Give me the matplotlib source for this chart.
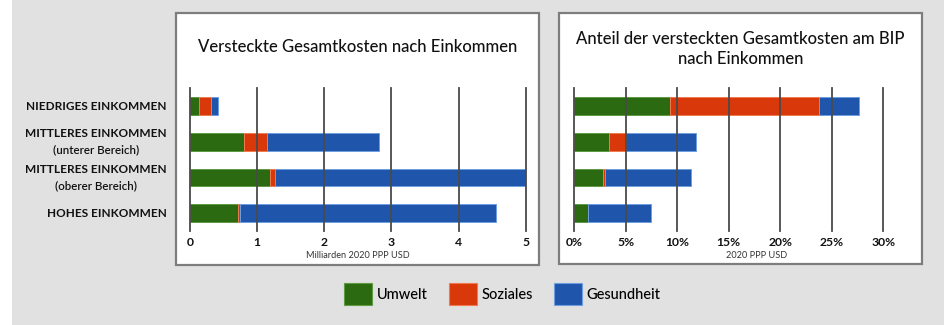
import matplotlib
matplotlib.use("Agg")
import matplotlib.pyplot as plt
from matplotlib.patches import Rectangle, Patch

plt.rcParams['font.family'] = ['Lato', 'DejaVu Sans']

# ---------------- data ----------------
categories = ["NIEDRIGES EINKOMMEN", "MITTLERES EINKOMMEN", "MITTLERES EINKOMMEN", "HOHES EINKOMMEN"]
sublabels = ["", "(unterer Bereich)", "(oberer Bereich)", ""]
series_names = ["Umwelt", "Soziales", "Gesundheit"]

abs_umwelt = [0.13, 0.80, 1.19, 0.72]
abs_soziales = [0.19, 0.34, 0.07, 0.02]
abs_gesundheit = [0.09, 1.68, 3.74, 3.82]

pct_umwelt = [9.3, 3.4, 2.8, 1.4]
pct_soziales = [14.5, 1.6, 0.2, 0.0]
pct_gesundheit = [3.8, 6.85, 8.3, 6.1]

abs_ticks = [0, 1, 2, 3, 4, 5]
abs_ticklabels = ["0", "1", "2", "3", "4", "5"]
pct_ticks = [0, 5, 10, 15, 20, 25, 30]
pct_ticklabels = ["0%", "5%", "10%", "15%", "20%", "25%", "30%"]

title_left = "Versteckte Gesamtkosten nach Einkommen"
title_right = "Anteil der versteckten Gesamtkosten am BIP\nnach Einkommen"
xlabel_left = "Milliarden 2020 PPP USD"
xlabel_right = "2020 PPP USD"

colors = ["#2b6a10", "#d9380a", "#1f55aa"]
edgecolors = ["#5f9a45", "#f07a50", "#6f9ee0"]

# ---------------- layout ----------------
W, H = 945, 325
fig = plt.figure(figsize=(W / 100, H / 100), dpi=100)
fig.patch.set_facecolor("white")

def fx(px):
    return px / W

def fy(py):
    return (H - py) / H

# grey background
fig.patches.append(Rectangle((fx(12), 0), 1 - fx(12), 1, transform=fig.transFigure,
                             facecolor="#e1e1e1", edgecolor="none", zorder=-3))
# panels
for x0, x1, y0, y1 in [(176, 539, 12.5, 265), (559, 922, 12.5, 264)]:
    fig.patches.append(Rectangle((fx(x0), fy(y1)), fx(x1) - fx(x0), fy(y0) - fy(y1),
                                 transform=fig.transFigure, facecolor="white",
                                 edgecolor="#7d7d7d", linewidth=1.6, zorder=-2))

ax_top, ax_bot = 87.5, 231
axL = fig.add_axes([fx(190), fy(ax_bot), fx(525.7) - fx(190), fy(ax_top) - fy(ax_bot)])
axR = fig.add_axes([fx(574), fy(ax_bot), fx(883.3) - fx(574), fy(ax_top) - fy(ax_bot)])

y = list(range(len(categories)))

def draw(ax, vals, ticks, ticklabels, xmax):
    left = [0.0] * len(y)
    for v, c, ec in zip(vals, colors, edgecolors):
        ax.barh(y, v, left=left, height=0.49, color=c, edgecolor=ec, linewidth=0.7, zorder=1)
        left = [a + b for a, b in zip(left, v)]
    ax.set_xlim(0, xmax)
    ax.set_ylim(3.5, -0.52)
    ax.set_xticks(ticks)
    ax.set_xticklabels(ticklabels, fontsize=8.7, fontweight="bold", color="#111111")
    ax.set_yticks([])
    ax.tick_params(axis="x", length=0, pad=4)
    for s in ax.spines.values():
        s.set_visible(False)
    ax.patch.set_alpha(0)
    ax.set_axisbelow(False)
    ax.grid(axis="x", color="#4a4a4a", linewidth=1.3)
    for ln in ax.get_xgridlines():
        ln.set_clip_on(False)
        ln.set_zorder(3)

draw(axL, [abs_umwelt, abs_soziales, abs_gesundheit], abs_ticks, abs_ticklabels, 5)
draw(axR, [pct_umwelt, pct_soziales, pct_gesundheit], pct_ticks, pct_ticklabels, 30)

# titles
fig.text(fx(357.5), fy(46.5), title_left, ha="center", va="center", fontsize=12,
         fontweight="medium", color="#111111")
fig.text(fx(740.5), fy(49), title_right, ha="center", va="center", fontsize=12,
         fontweight="medium", color="#111111", linespacing=1.35)

# x labels
fig.text(fx(357.8), fy(255.5), xlabel_left, ha="center", va="center", fontsize=6.6, color="#333333")
fig.text(fx(757), fy(256), xlabel_right, ha="center", va="center", fontsize=6.6, color="#333333")

# category labels
fig.canvas.draw()
renderer = fig.canvas.get_renderer()
for i, (cat, sub) in enumerate(zip(categories, sublabels)):
    if sub:
        t = axL.annotate(cat, xy=(fx(166.8), i), xycoords=("figure fraction", "data"),
                         xytext=(0, 6), textcoords="offset points",
                         ha="right", va="center", fontsize=8.5, fontweight="bold", color="#111111",
                         annotation_clip=False)
        bb = t.get_window_extent(renderer)
        cx = (bb.x0 + bb.x1) / 2 / W
        axL.annotate(sub, xy=(cx, i), xycoords=("figure fraction", "data"),
                     xytext=(0, -6), textcoords="offset points",
                     ha="center", va="center", fontsize=8.3, fontweight="semibold", color="#111111",
                     annotation_clip=False)
    else:
        axL.annotate(cat, xy=(fx(166.8), i), xycoords=("figure fraction", "data"),
                     ha="right", va="center", fontsize=8.5, fontweight="bold", color="#111111",
                     annotation_clip=False)

# legend
handles = [Patch(facecolor=c, edgecolor=ec, linewidth=0.8) for c, ec in zip(colors, edgecolors)]
leg = fig.legend(handles, series_names, loc="center left", bbox_to_anchor=(fx(344.3), fy(294)),
                 ncol=3, frameon=False, fontsize=10.5, handlelength=1.92, handleheight=1.92,
                 handletextpad=0.3, columnspacing=1.48, borderpad=0, borderaxespad=0)
for t in leg.get_texts():
    t.set_fontweight("medium")

fig.savefig("out.png", dpi=100, facecolor=fig.get_facecolor())
